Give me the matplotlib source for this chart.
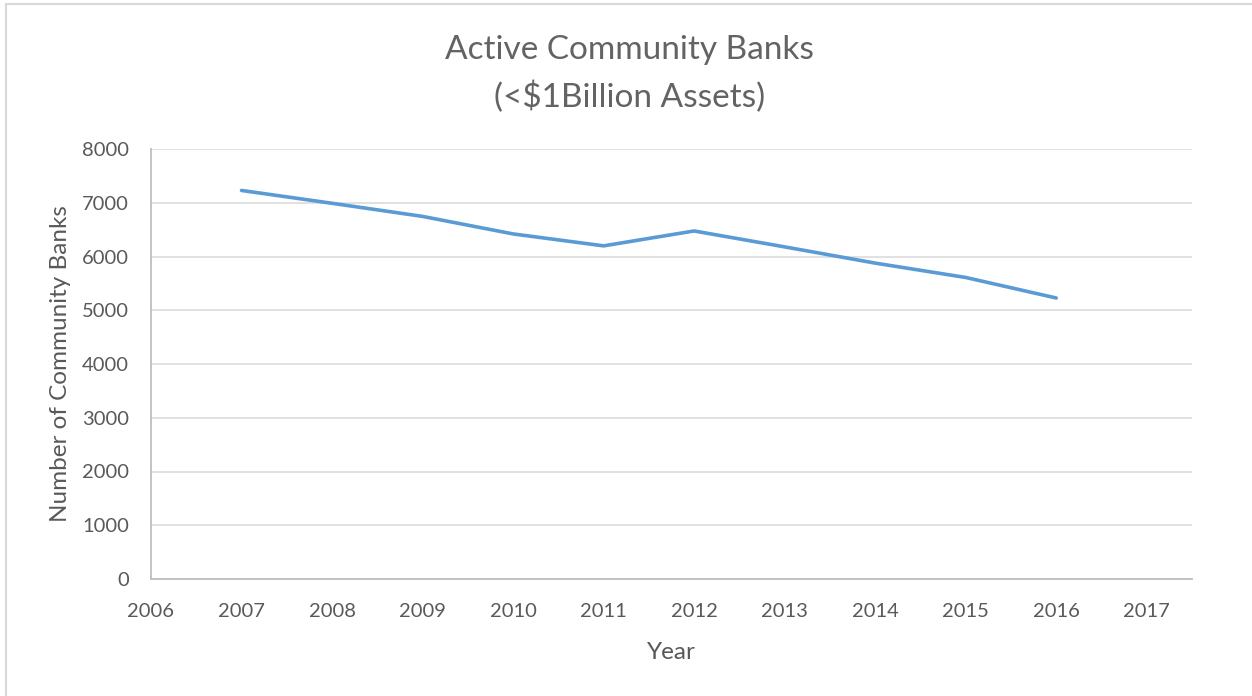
import numpy as np
import matplotlib
matplotlib.use("Agg")
import matplotlib.pyplot as plt
from matplotlib.patches import Rectangle

# values
years = [2007, 2008, 2009, 2010, 2011, 2012, 2013, 2014, 2015, 2016]
banks = [7229, 6990, 6746, 6420, 6198, 6475, 6179, 5877, 5610, 5228]

xticks = list(range(2006, 2018))
yticks = list(range(0, 8001, 1000))

txt = "#595959"
plt.rcParams['font.family'] = ['Lato', 'DejaVu Sans']

fig = plt.figure(figsize=(12.52, 6.96), dpi=100)
ax = fig.add_axes([151/1252, 1 - 579/696, (1192 - 151)/1252, (579 - 149)/696])

ax.plot(years, banks, color="#5B9BD5", linewidth=2.6, solid_capstyle="round", zorder=3)

ax.set_xlim(2006, 2017.5)
ax.set_ylim(0, 8000)
ax.set_xticks(xticks)
ax.set_yticks(yticks)
ax.grid(axis="y", color="#D9D9D9", linewidth=1.1)
ax.set_axisbelow(True)
ax.tick_params(length=0, labelsize=14.5, colors=txt)
ax.tick_params(axis="y", pad=16)
ax.tick_params(axis="x", pad=17)

for s in ["top", "right"]:
    ax.spines[s].set_visible(False)
for s in ["left", "bottom"]:
    ax.spines[s].set_color("#BFBFBF")
    ax.spines[s].set_linewidth(1.3)

ax.set_xlabel("Year", fontsize=17.5, color=txt, labelpad=16)
ax.set_ylabel("Number of Community Banks", fontsize=17.5, color=txt, labelpad=8)

fig.text(0.503, 1 - 50/696, "Active Community Banks", ha="center", va="center",
         fontsize=24, color="#636363")
fig.text(0.503, 1 - 97/696, "(<$1Billion Assets)", ha="center", va="center",
         fontsize=24, color="#636363")

# outer chart border (cut off on the right and bottom)
fig.patches.append(Rectangle((5.5/1252, -0.1), 1.2, 1.1 - 4.5/696, transform=fig.transFigure,
                             fill=False, edgecolor="#D9D9D9", linewidth=1.5))

fig.savefig("out.png", dpi=100)
